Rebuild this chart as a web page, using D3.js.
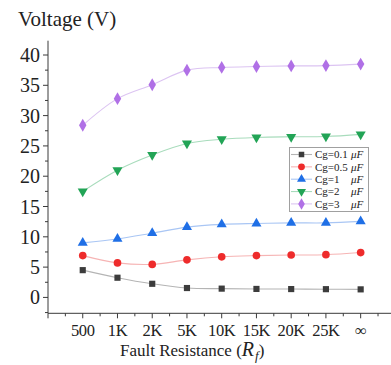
<!DOCTYPE html>
<html>
<head>
<meta charset="utf-8">
<script src="https://cdn.jsdelivr.net/npm/d3@7"></script>
<style>
  html, body { margin: 0; padding: 0; background: #fff; }
  svg { display: block; }
  text { font-family: "Liberation Serif", "Times New Roman", serif; fill: #222; }
</style>
</head>
<body>
<svg id="chart" width="391" height="365"></svg>
<script>
// Fault resistance categories along the x axis
const categories = ["500", "1K", "2K", "5K", "10K", "15K", "20K", "25K", "\u221E"];

// Voltage (V) for each grounding capacitance
const cg01 = [4.5, 3.25, 2.25, 1.55, 1.45, 1.4, 1.38, 1.36, 1.33];
const cg05 = [6.9, 5.7, 5.45, 6.2, 6.7, 6.9, 7.0, 7.05, 7.4];
const cg1  = [9.0, 9.65, 10.6, 11.6, 12.05, 12.2, 12.3, 12.3, 12.55];
const cg2  = [17.5, 21.0, 23.5, 25.4, 26.1, 26.4, 26.5, 26.55, 26.9];
const cg3  = [28.4, 32.8, 35.1, 37.5, 37.95, 38.1, 38.2, 38.25, 38.5];

const seriesLabels = ["Cg=0.1", "Cg=0.5", "Cg=1", "Cg=2", "Cg=3"];
const yTicks = [0, 5, 10, 15, 20, 25, 30, 35, 40];

const series = [
  { name: seriesLabels[0], values: cg01, color: "#3c3c3c", line: "#b4b4b4", symbol: d3.symbolSquare,   size: 38, rot: 0 },
  { name: seriesLabels[1], values: cg05, color: "#ee2b2b", line: "#f6b4b4", symbol: d3.symbolCircle,   size: 46, rot: 0 },
  { name: seriesLabels[2], values: cg1,  color: "#1f6fe6", line: "#a9c6f4", symbol: d3.symbolTriangle, size: 44, rot: 0 },
  { name: seriesLabels[3], values: cg2,  color: "#22a456", line: "#a8dcbc", symbol: d3.symbolTriangle, size: 44, rot: 180 },
  { name: seriesLabels[4], values: cg3,  color: "#b070e6", line: "#dcc4f2", symbol: d3.symbolDiamond,  size: 48, rot: 0 }
];

const svg = d3.select("#chart");

// Scales: categories sit on integer positions, axis runs one step beyond each end
const x = d3.scaleLinear().domain([-1, 9]).range([48, 395.4]);
const y = d3.scaleLinear().domain([-2.62, 42.36]).range([313.3, 40.7]);

const axisColor = "#3a3a3a";

// Y axis with major and minor ticks
const yMinor = d3.range(-2.5, 42.5, 5);
const yAxis = svg.append("g").attr("transform", `translate(${x(-1)},0)`);
yAxis.append("line")
  .attr("x1", 0).attr("x2", 0).attr("y1", y.range()[1]).attr("y2", y.range()[0])
  .attr("stroke", axisColor).attr("stroke-width", 1);
yAxis.selectAll(".minor").data(yMinor).join("line")
  .attr("x1", -3).attr("x2", 0).attr("y1", d => y(d)).attr("y2", d => y(d))
  .attr("stroke", axisColor);
yAxis.selectAll(".major").data(yTicks).join("line")
  .attr("x1", -5).attr("x2", 0).attr("y1", d => y(d)).attr("y2", d => y(d))
  .attr("stroke", axisColor);
yAxis.selectAll("text").data(yTicks).join("text")
  .attr("x", -8).attr("y", d => y(d)).attr("dy", "0.35em")
  .attr("text-anchor", "end").attr("font-size", 20)
  .text(d => d);

// X axis with major and minor ticks
const xAxis = svg.append("g").attr("transform", `translate(0,${y(-2.62)})`);
xAxis.append("line")
  .attr("x1", x(-1)).attr("x2", x(9)).attr("y1", 0).attr("y2", 0)
  .attr("stroke", axisColor);
xAxis.selectAll(".minor").data(d3.range(-0.5, 9, 1)).join("line")
  .attr("x1", d => x(d)).attr("x2", d => x(d)).attr("y1", 0).attr("y2", 3)
  .attr("stroke", axisColor);
xAxis.selectAll(".major").data(d3.range(-1, 9)).join("line")
  .attr("x1", d => x(d)).attr("x2", d => x(d)).attr("y1", 0).attr("y2", 5)
  .attr("stroke", axisColor);
xAxis.selectAll("text").data(categories).join("text")
  .attr("x", (d, i) => x(i)).attr("y", 23)
  .attr("text-anchor", "middle").attr("font-size", 16.5)
  .attr("letter-spacing", -0.4)
  .text(d => d);

// Axis titles
svg.append("text").attr("x", 18).attr("y", 26).attr("font-size", 21).text("Voltage (V)");
const xt = svg.append("text").attr("x", 120).attr("y", 356).attr("font-size", 17);
xt.append("tspan").text("Fault Resistance (");
xt.append("tspan").attr("font-style", "italic").attr("font-size", 20).text("R");
xt.append("tspan").attr("font-style", "italic").attr("font-size", 13).attr("dy", 4).attr("dx", 1).text("f");
xt.append("tspan").attr("dy", -4).text(")");

// Curves and markers
const line = d3.line()
  .x((d, i) => x(i))
  .y(d => y(d))
  .curve(d3.curveCatmullRom.alpha(0.5));

series.forEach(s => {
  svg.append("path")
    .attr("d", line(s.values))
    .attr("fill", "none")
    .attr("stroke", s.line)
    .attr("stroke-width", 1.1);
  svg.append("g").selectAll("path").data(s.values).join("path")
    .attr("d", d3.symbol().type(s.symbol).size(s.size))
    .attr("transform", (d, i) => `translate(${x(i)},${y(d)}) rotate(${s.rot})`)
    .attr("fill", s.color);
});

// Legend
const lg = svg.append("g");
lg.append("rect")
  .attr("x", 289.5).attr("y", 147.5).attr("width", 79).attr("height", 64)
  .attr("fill", "#fff").attr("stroke", "#a0a0a0").attr("stroke-width", 1);
series.forEach((s, i) => {
  const ly = 154.5 + i * 12.35;
  lg.append("line").attr("x1", 291).attr("x2", 312).attr("y1", ly).attr("y2", ly)
    .attr("stroke", s.line).attr("stroke-width", 1.1);
  lg.append("path")
    .attr("d", d3.symbol().type(s.symbol).size(s.size * 0.8))
    .attr("transform", `translate(301.5,${ly}) rotate(${s.rot})`)
    .attr("fill", s.color);
  lg.append("text").attr("x", 315).attr("y", ly).attr("dy", "0.35em")
    .attr("font-size", 11).text(s.name);
  lg.append("text").attr("x", 351).attr("y", ly).attr("dy", "0.35em")
    .attr("font-size", 11).attr("font-style", "italic").text("\u03BCF");
});
</script>
</body>
</html>
